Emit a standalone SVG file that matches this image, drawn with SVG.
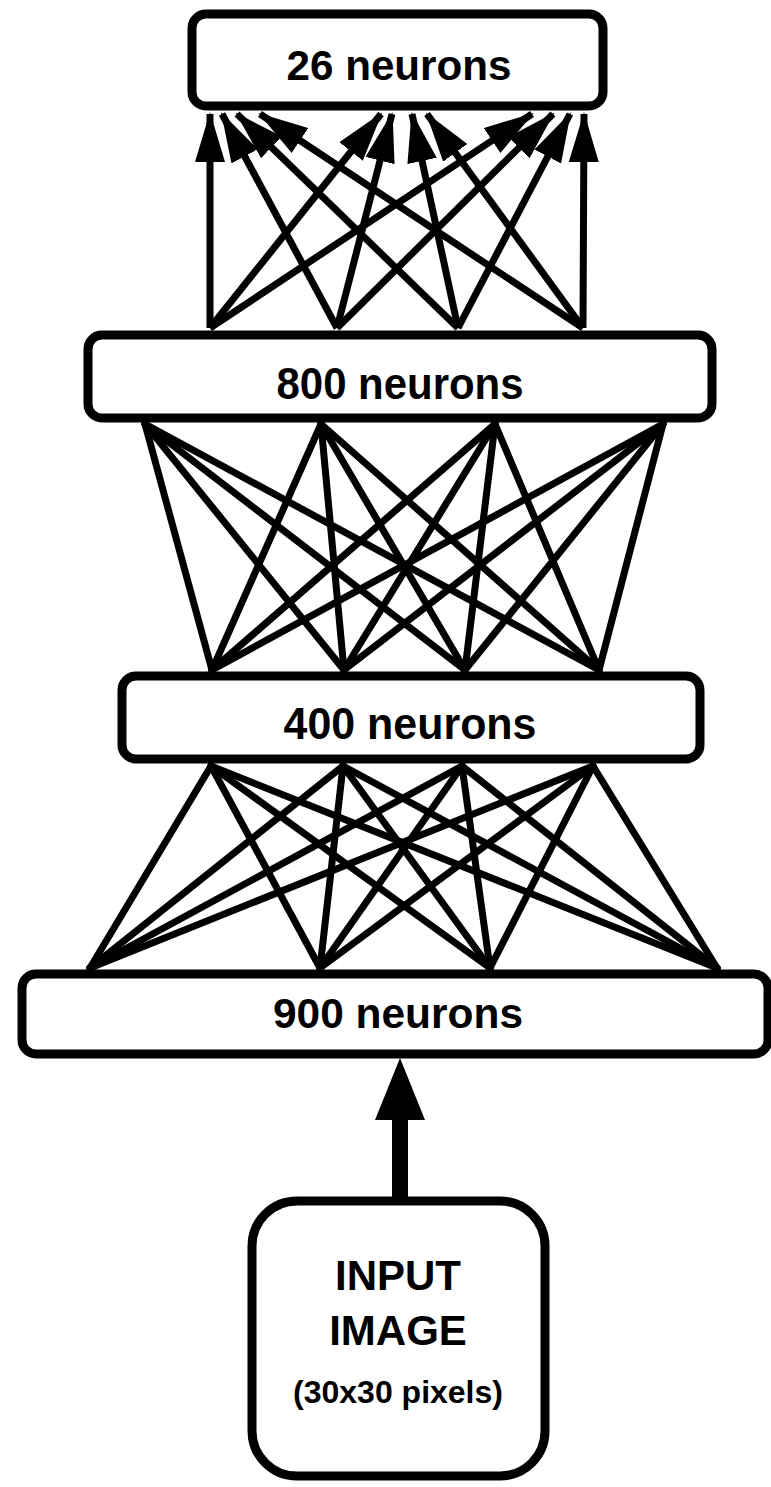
<svg xmlns="http://www.w3.org/2000/svg" width="771" height="1487" viewBox="0 0 771 1487">
<style>
.box{fill:#fff;stroke:#000;stroke-width:9}
.lbl{font-family:"Liberation Sans",Arial,sans-serif;font-weight:bold;fill:#000;text-anchor:middle}
.c{stroke:#000;stroke-width:7;fill:none;stroke-linecap:round}
.a{stroke:#000;stroke-width:7;fill:none;marker-end:url(#ah)}
</style>
<defs>
<marker id="ah" markerUnits="userSpaceOnUse" markerWidth="50" markerHeight="30" refX="48" refY="15" orient="auto">
<path d="M0,0 L50,15 L0,30 z" fill="#000"/>
</marker>
</defs>
<rect width="771" height="1487" fill="#fff"/>
<g id="connectors">
<g id="c800to26">
<line class="a" x1="210" y1="328" x2="210" y2="114"/>
<line class="a" x1="210" y1="328" x2="381" y2="114"/>
<line class="a" x1="210" y1="328" x2="532" y2="114"/>
<line class="a" x1="337" y1="328" x2="222" y2="114"/>
<line class="a" x1="337" y1="328" x2="392" y2="114"/>
<line class="a" x1="337" y1="328" x2="553" y2="114"/>
<line class="a" x1="458" y1="328" x2="237" y2="114"/>
<line class="a" x1="458" y1="328" x2="412" y2="114"/>
<line class="a" x1="458" y1="328" x2="570" y2="114"/>
<line class="a" x1="583" y1="328" x2="260" y2="114"/>
<line class="a" x1="583" y1="328" x2="427" y2="114"/>
<line class="a" x1="583" y1="328" x2="584" y2="114"/>
</g>
<g id="c800to400">
<line class="c" x1="145" y1="424" x2="212" y2="670"/>
<line class="c" x1="145" y1="424" x2="344" y2="670"/>
<line class="c" x1="145" y1="424" x2="465" y2="670"/>
<line class="c" x1="145" y1="424" x2="599" y2="670"/>
<line class="c" x1="321" y1="424" x2="212" y2="670"/>
<line class="c" x1="321" y1="424" x2="344" y2="670"/>
<line class="c" x1="321" y1="424" x2="465" y2="670"/>
<line class="c" x1="321" y1="424" x2="599" y2="670"/>
<line class="c" x1="495" y1="424" x2="212" y2="670"/>
<line class="c" x1="495" y1="424" x2="344" y2="670"/>
<line class="c" x1="495" y1="424" x2="465" y2="670"/>
<line class="c" x1="495" y1="424" x2="599" y2="670"/>
<line class="c" x1="663" y1="424" x2="212" y2="670"/>
<line class="c" x1="663" y1="424" x2="344" y2="670"/>
<line class="c" x1="663" y1="424" x2="465" y2="670"/>
<line class="c" x1="663" y1="424" x2="599" y2="670"/>
</g>
<g id="c400to900">
<line class="c" x1="211" y1="766" x2="90" y2="968"/>
<line class="c" x1="211" y1="766" x2="320" y2="968"/>
<line class="c" x1="211" y1="766" x2="490" y2="968"/>
<line class="c" x1="211" y1="766" x2="717" y2="968"/>
<line class="c" x1="343" y1="766" x2="90" y2="968"/>
<line class="c" x1="343" y1="766" x2="320" y2="968"/>
<line class="c" x1="343" y1="766" x2="490" y2="968"/>
<line class="c" x1="343" y1="766" x2="717" y2="968"/>
<line class="c" x1="462" y1="766" x2="90" y2="968"/>
<line class="c" x1="462" y1="766" x2="320" y2="968"/>
<line class="c" x1="462" y1="766" x2="490" y2="968"/>
<line class="c" x1="462" y1="766" x2="717" y2="968"/>
<line class="c" x1="593" y1="766" x2="90" y2="968"/>
<line class="c" x1="593" y1="766" x2="320" y2="968"/>
<line class="c" x1="593" y1="766" x2="490" y2="968"/>
<line class="c" x1="593" y1="766" x2="717" y2="968"/>
</g>
<g id="cInputTo900">
<rect x="392" y="1115" width="16" height="88" fill="#000"/>
<polygon points="400,1058 425,1120 375,1120" fill="#000"/>
</g>
</g>
<g id="n26">
<rect class="box" x="192" y="14" width="411" height="92" rx="14"/>
<text class="lbl" x="399" y="80" font-size="43" textLength="225" lengthAdjust="spacingAndGlyphs">26 neurons</text>
</g>
<g id="n800">
<rect class="box" x="88" y="335" width="624" height="83" rx="14"/>
<text class="lbl" x="400" y="399" font-size="44" textLength="247" lengthAdjust="spacingAndGlyphs">800 neurons</text>
</g>
<g id="n400">
<rect class="box" x="122" y="676" width="578" height="83" rx="14"/>
<text class="lbl" x="410" y="739" font-size="44" textLength="253" lengthAdjust="spacingAndGlyphs">400 neurons</text>
</g>
<g id="n900">
<rect class="box" x="22" y="974" width="746" height="80" rx="14"/>
<text class="lbl" x="398" y="1028" font-size="42" textLength="250" lengthAdjust="spacingAndGlyphs">900 neurons</text>
</g>
<g id="input">
<rect class="box" x="252" y="1201" width="293" height="275" rx="45"/>
<text class="lbl" x="398" y="1290" font-size="42">INPUT</text>
<text class="lbl" x="398" y="1345" font-size="42">IMAGE</text>
<text class="lbl" x="398" y="1403" font-size="32">(30x30 pixels)</text>
</g>
</svg>
